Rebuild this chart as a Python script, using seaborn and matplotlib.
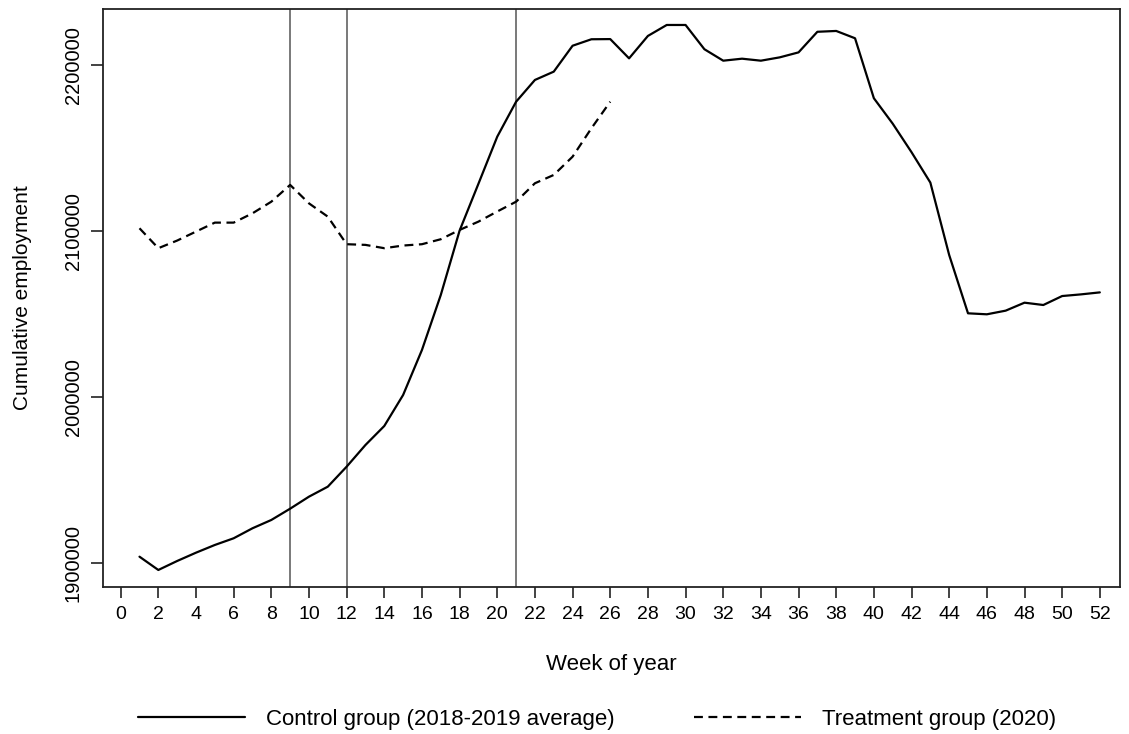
import matplotlib

matplotlib.use("Agg")

import matplotlib.pyplot as plt
import numpy as np
import pandas as pd
import seaborn as sns

weeks_control = list(range(1, 53))
control = [
    1903970, 1895970, 1901380, 1906380, 1911020, 1915050, 1921070, 1926070,
    1932870, 1940100, 1946120, 1958160, 1971220, 1982660, 2001330, 2028420,
    2061530, 2100300, 2128500, 2156870, 2177900, 2191000, 2196000, 2211600,
    2215500, 2215600, 2204000, 2217500, 2224100, 2224100, 2209500, 2202600,
    2203800, 2202600, 2204600, 2207600, 2220000, 2220500, 2216100, 2180000,
    2164700, 2147500, 2129200, 2085600, 2050500, 2049900, 2052100, 2056900,
    2055500, 2060900, 2061900, 2063100,
]

weeks_treatment = list(range(1, 27))
treatment = [
    2101700, 2089700, 2094300, 2099700, 2105100, 2105100, 2110700, 2117700,
    2127800, 2116700, 2108700, 2092100, 2091700, 2089700, 2091300, 2092100,
    2095100, 2100700, 2105700, 2111800, 2117700, 2128800, 2133800, 2144800,
    2161900, 2177900,
]

event_weeks = [9, 12, 21]
x_ticks = list(range(0, 53, 2))
y_ticks = [1900000, 2000000, 2100000, 2200000]
labels = ["Control group (2018-2019 average)", "Treatment group (2020)"]

sns.set_style("ticks")
plt.rcParams["font.family"] = ["Liberation Sans", "DejaVu Sans"]
plt.rcParams["text.color"] = "black"
plt.rcParams["axes.labelcolor"] = "black"

fig = plt.figure(figsize=(11.29, 7.34), dpi=100)
ax = fig.add_axes([0.0912, 0.2003, 0.9008, 0.7874])

df_c = pd.DataFrame({"week": weeks_control, "value": control})
df_t = pd.DataFrame({"week": weeks_treatment, "value": treatment})

sns.lineplot(data=df_c, x="week", y="value", ax=ax, color="black", linewidth=1.6)
sns.lineplot(data=df_t, x="week", y="value", ax=ax, color="black", linewidth=1.6,
             linestyle=(0, (4, 2.5)))
handles = [ax.lines[0], ax.lines[1]]

for w in event_weeks:
    ax.axvline(w, color="#555555", linewidth=1.1, zorder=1)

ax.set_xlim(-0.94, 53.07)
ax.set_ylim(1885730, 2233700)
ax.set_xticks(x_ticks)
ax.set_xticklabels([str(t) for t in x_ticks], fontsize=14)
ax.set_yticks(y_ticks)
ax.set_yticklabels([str(t) for t in y_ticks], fontsize=14.5, rotation=90, va="center")
ax.tick_params(axis="x", length=8, width=1.2, pad=6, colors="#222222", labelcolor="black")
ax.tick_params(axis="y", length=8.5, width=1.2, pad=6, colors="#222222", labelcolor="black")
for spine in ax.spines.values():
    spine.set_linewidth(1.3)
    spine.set_color("#222222")

ax.set_xlabel("Week of year", fontsize=16, labelpad=22, color="black")
ax.set_ylabel("Cumulative employment", fontsize=15, labelpad=23, color="black")

fig.legend(handles, labels, loc="center", bbox_to_anchor=(0.529, 0.0204), ncol=2,
           frameon=False, fontsize=16, handlelength=4.8, handletextpad=0.95,
           columnspacing=3.6, labelcolor="black")

fig.savefig("out.png", dpi=100)
plt.close(fig)
